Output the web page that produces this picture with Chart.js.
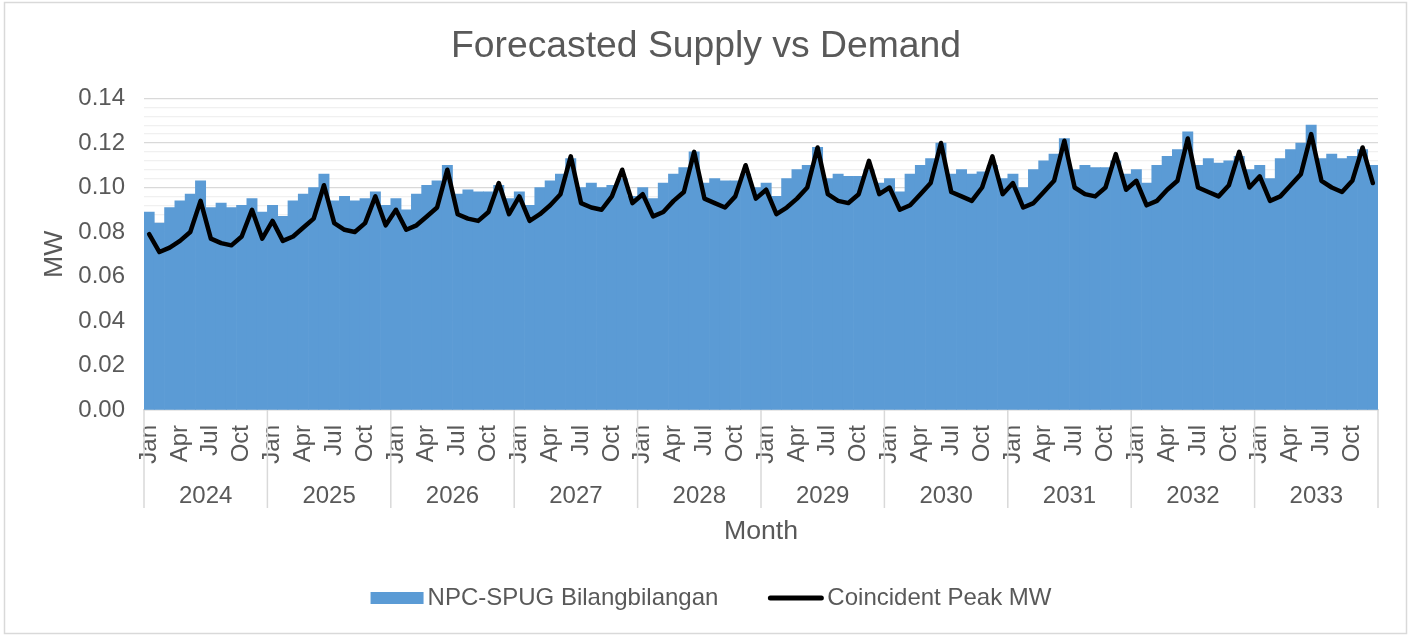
<!DOCTYPE html>
<html>
<head>
<meta charset="utf-8">
<script src="https://cdn.jsdelivr.net/npm/chart.js@4.4.1/dist/chart.umd.min.js"></script>
<style>
html,body{margin:0;padding:0;background:#fff;}
#wrap{width:1410px;height:635px;position:relative;}
</style>
</head>
<body>
<div id="wrap"><canvas id="c" width="1410" height="635"></canvas></div>
<script>
const monthNames = ['Jan','Feb','Mar','Apr','May','Jun','Jul','Aug','Sep','Oct','Nov','Dec'];
const years = [2024,2025,2026,2027,2028,2029,2030,2031,2032,2033];
const yTickLabels = ['0.00','0.02','0.04','0.06','0.08','0.10','0.12','0.14'];
const chartTitle = 'Forecasted Supply vs Demand';

const supplyMW = [
  0.089,0.084,0.091,0.094,0.097,0.103,0.091,0.093,0.091,0.092,0.095,0.089,
  0.092,0.087,0.094,0.097,0.100,0.106,0.094,0.096,0.094,0.095,0.098,0.092,
  0.095,0.090,0.097,0.101,0.103,0.110,0.097,0.099,0.098,0.098,0.101,0.095,
  0.098,0.092,0.100,0.103,0.106,0.113,0.100,0.102,0.100,0.101,0.104,0.096,
  0.100,0.095,0.102,0.106,0.109,0.116,0.102,0.104,0.103,0.103,0.106,0.100,
  0.102,0.096,0.104,0.108,0.110,0.118,0.104,0.106,0.105,0.105,0.108,0.102,
  0.104,0.098,0.106,0.110,0.113,0.120,0.106,0.108,0.106,0.107,0.110,0.104,
  0.106,0.100,0.108,0.112,0.115,0.122,0.108,0.110,0.109,0.109,0.112,0.106,
  0.108,0.102,0.110,0.114,0.117,0.125,0.110,0.113,0.111,0.112,0.114,0.108,
  0.110,0.104,0.113,0.117,0.120,0.128,0.113,0.115,0.113,0.114,0.117,0.110
];
const peakMW = [
  0.079,0.071,0.073,0.076,0.080,0.094,0.077,0.075,0.074,0.078,0.090,0.077,
  0.085,0.076,0.078,0.082,0.086,0.101,0.084,0.081,0.080,0.084,0.096,0.083,
  0.090,0.081,0.083,0.087,0.091,0.108,0.088,0.086,0.085,0.089,0.102,0.088,
  0.096,0.085,0.088,0.092,0.097,0.114,0.093,0.091,0.090,0.096,0.108,0.093,
  0.097,0.087,0.089,0.094,0.098,0.116,0.095,0.093,0.091,0.096,0.110,0.095,
  0.099,0.088,0.091,0.095,0.100,0.118,0.097,0.094,0.093,0.097,0.112,0.097,
  0.100,0.090,0.092,0.097,0.102,0.120,0.098,0.096,0.094,0.100,0.114,0.097,
  0.102,0.091,0.093,0.098,0.103,0.121,0.100,0.097,0.096,0.100,0.115,0.099,
  0.103,0.092,0.094,0.099,0.103,0.122,0.100,0.098,0.096,0.101,0.116,0.100,
  0.105,0.094,0.096,0.101,0.106,0.124,0.103,0.100,0.098,0.103,0.118,0.102
];

const FONT = "'Liberation Sans', Arial, sans-serif";
const TXT = '#595959';
const labels = years.flatMap(y => monthNames.map(m => m + ' ' + y));
const yGridValues = Array.from({length: 36}, (_, i) => i * 0.004);

Chart.defaults.font.family = FONT;
Chart.defaults.color = TXT;

const deco = {
  id: 'deco',
  beforeDraw(chart) {
    const ctx = chart.ctx;
    ctx.save();
    ctx.fillStyle = '#fff';
    ctx.fillRect(0, 0, chart.width, chart.height);
    ctx.restore();
  },
  afterDraw(chart) {
    const ctx = chart.ctx;
    const x = chart.scales.x;
    const {bottom} = chart.chartArea;
    const half = (x.getPixelForValue(1) - x.getPixelForValue(0)) / 2;
    ctx.save();
    // title
    ctx.fillStyle = TXT;
    ctx.font = '37.3px ' + FONT;
    ctx.textAlign = 'center';
    ctx.textBaseline = 'alphabetic';
    ctx.fillText(chartTitle, 706, 57);
    // year separators
    ctx.strokeStyle = '#d9d9d9';
    ctx.lineWidth = 1.5;
    for (let k = 0; k <= years.length; k++) {
      const px = k === years.length ? x.getPixelForValue(k * 12 - 1) + half : x.getPixelForValue(k * 12) - half;
      ctx.beginPath();
      ctx.moveTo(px, bottom);
      ctx.lineTo(px, 508);
      ctx.stroke();
    }
    // year labels
    ctx.fillStyle = TXT;
    ctx.font = '24px ' + FONT;
    ctx.textAlign = 'center';
    ctx.textBaseline = 'middle';
    years.forEach((yr, k) => {
      const px = (x.getPixelForValue(k * 12 + 5) + x.getPixelForValue(k * 12 + 6)) / 2;
      ctx.fillText(String(yr), px, 496);
    });
    // legend
    const ds = chart.data.datasets;
    ctx.textAlign = 'left';
    const w1 = ctx.measureText(ds[0].label).width;
    const w2 = ctx.measureText(ds[1].label).width;
    const total = 53 + 4 + w1 + 50 + 55 + 4 + w2;
    let lx = 711 - total / 2;
    const ly = 598;
    ctx.fillStyle = ds[0].backgroundColor;
    ctx.fillRect(lx, ly - 6, 53, 12);
    ctx.fillStyle = TXT;
    ctx.fillText(ds[0].label, lx + 57, ly);
    lx += 57 + w1 + 50;
    ctx.strokeStyle = ds[1].borderColor;
    ctx.lineWidth = 5;
    ctx.lineCap = 'round';
    ctx.beginPath();
    ctx.moveTo(lx + 2, ly);
    ctx.lineTo(lx + 53, ly);
    ctx.stroke();
    ctx.fillText(ds[1].label, lx + 59, ly);
    // chart border
    ctx.strokeStyle = '#d9d9d9';
    ctx.lineWidth = 1.5;
    ctx.lineCap = 'butt';
    ctx.strokeRect(4.5, 2.5, 1402, 631);
    ctx.restore();
  }
};

new Chart(document.getElementById('c'), {
  data: {
    labels: labels,
    datasets: [
      {
        type: 'bar',
        label: 'NPC-SPUG Bilangbilangan',
        data: supplyMW,
        backgroundColor: '#5b9bd5',
        borderWidth: 0,
        barPercentage: 1,
        categoryPercentage: 1,
        order: 2
      },
      {
        type: 'line',
        label: 'Coincident Peak MW',
        data: peakMW,
        borderColor: '#000000',
        backgroundColor: '#000000',
        borderWidth: 4.5,
        pointRadius: 0,
        tension: 0,
        borderJoinStyle: 'round',
        borderCapStyle: 'round',
        order: 1
      }
    ]
  },
  options: {
    responsive: false,
    animation: false,
    devicePixelRatio: 1,
    layout: {padding: {left: 0, right: 32, top: 98.5, bottom: 75}},
    plugins: {
      legend: {display: false},
      tooltip: {enabled: false},
      title: {display: false}
    },
    scales: {
      x: {
        offset: true,
        grid: {display: false, drawTicks: false},
        border: {display: true, color: '#d9d9d9', width: 1.5},
        ticks: {
          autoSkip: false,
          minRotation: 90,
          maxRotation: 90,
          padding: 15,
          color: TXT,
          font: {size: 24, family: FONT},
          callback: (v, i) => (i % 3 === 0 ? monthNames[i % 12] : '')
        },
        title: {
          display: true,
          text: 'Month',
          color: TXT,
          font: {size: 26.7, family: FONT},
          padding: {top: 0, bottom: 12}
        },
        afterFit: s => { s.height = 150; s.paddingLeft = 0; s.paddingRight = 0; }
      },
      y: {
        min: 0,
        max: 0.14,
        afterBuildTicks: s => { s.ticks = yGridValues.map(v => ({value: v})); },
        ticks: {
          autoSkip: false,
          padding: 19,
          color: TXT,
          font: {size: 24, family: FONT},
          callback: (v, i) => (i % 5 === 0 ? yTickLabels[i / 5] : '')
        },
        grid: {
          color: c => (c.index % 5 === 0 ? '#d9d9d9' : '#f0f0f0'),
          lineWidth: 1.3,
          drawTicks: false
        },
        border: {display: false},
        title: {
          display: true,
          text: 'MW',
          color: TXT,
          font: {size: 26.7, family: FONT},
          padding: {top: 39, bottom: 0}
        },
        afterFit: s => { s.width = 144; }
      }
    }
  },
  plugins: [deco]
});
</script>
</body>
</html>
